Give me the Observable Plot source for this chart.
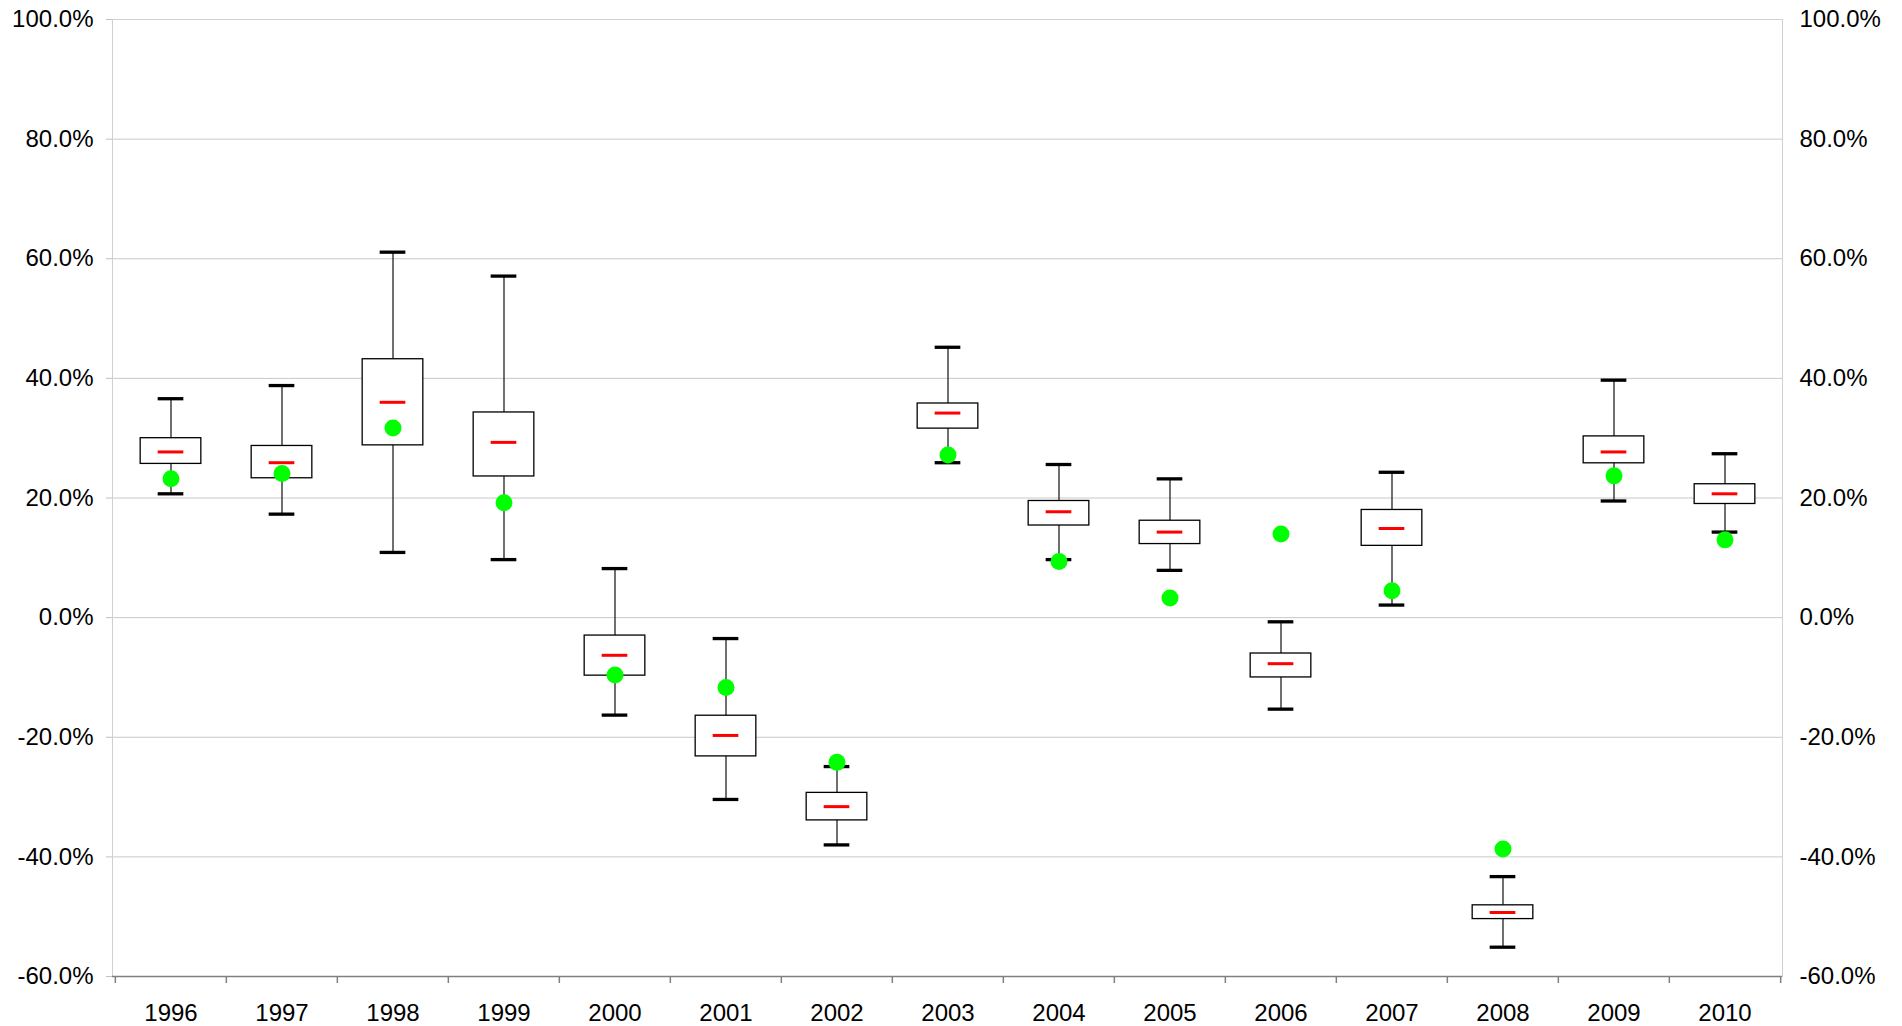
<!DOCTYPE html>
<html><head><meta charset="utf-8">
<script src="https://cdn.jsdelivr.net/npm/d3@7"></script>
<script src="https://cdn.jsdelivr.net/npm/@observablehq/plot@0.6"></script>
<style>html,body{margin:0;padding:0;background:#fff;overflow:hidden}svg{display:block}</style>
</head><body><div id="chart"></div>
<script>
// Values in percent
const years = ["1996","1997","1998","1999","2000","2001","2002","2003","2004","2005","2006","2007","2008","2009","2010"];
const whiskerHigh = [36.6, 38.8, 61.1, 57.1, 8.2, -3.5, -24.9, 45.2, 25.6, 23.2, -0.7, 24.3, -43.3, 39.7, 27.4];
const q3          = [30.0, 28.7, 43.2, 34.3, -3.0, -16.4, -29.3, 35.8, 19.5, 16.2, -6.0, 18.0, -48.1, 30.3, 22.3];
const median      = [27.7, 25.9, 36.0, 29.3, -6.3, -19.7, -31.6, 34.2, 17.7, 14.3, -7.7, 14.9, -49.3, 27.7, 20.7];
const q1          = [25.7, 23.3, 28.8, 23.6, -9.7, -23.2, -33.9, 31.6, 15.4, 12.3, -10.0, 12.0, -50.4, 25.8, 19.0];
const whiskerLow  = [20.7, 17.3, 10.9, 9.7, -16.3, -30.4, -38.0, 25.9, 9.7, 7.9, -15.3, 2.1, -55.1, 19.5, 14.3];
const marker      = [23.2, 24.1, 31.7, 19.2, -9.6, -11.7, -24.2, 27.2, 9.4, 3.3, 14.0, 4.5, -38.7, 23.7, 13.0];
const yTicks = [-60, -40, -20, 0, 20, 40, 60, 80, 100];

const rows = years.map((year, i) => ({
  year, hi: whiskerHigh[i], q3: q3[i], med: median[i], q1: q1[i], lo: whiskerLow[i], mark: marker[i]
}));

const W = 1902, H = 1026, mL = 112, mR = 120, mT = 19, mB = 50;
const bw = (W - mL - mR) / years.length;
const boxInset = (bw - 61) / 2;
const capInset = (bw - 26) / 2;
const fmt = d => d.toFixed(1) + "%";

const chart = Plot.plot({
  width: W, height: H,
  marginLeft: mL, marginRight: mR, marginTop: mT, marginBottom: mB,
  style: {fontFamily: "'Liberation Sans', Arial, sans-serif", fontSize: "24px", background: "#fff", color: "#000"},
  x: {type: "band", domain: years, padding: 0, axis: null},
  y: {domain: [-60, 100], axis: null},
  marks: [
    Plot.gridY(yTicks, {stroke: "#c8c8c8", strokeOpacity: 1}),
    Plot.frame({stroke: "#d0d0d0"}),
    Plot.ruleY([-60], {stroke: "#808080", strokeWidth: 1.5}),
    Plot.ruleX(years, {x: d => d, y1: -60, y2: -60, insetBottom: -7, dx: -bw / 2, stroke: "#808080", strokeWidth: 1.5}),
    Plot.ruleX([years[years.length - 1]], {x: d => d, y1: -60, y2: -60, insetBottom: -7, dx: bw / 2, stroke: "#808080", strokeWidth: 1.5}),
    Plot.axisY(yTicks, {anchor: "left", tickSize: 6, tickPadding: 13, stroke: "#c0c0c0", fill: "#000", tickFormat: fmt, label: null}),
    Plot.axisY(yTicks, {anchor: "right", tickSize: 0, tickPadding: 17, fill: "#000", tickFormat: fmt, label: null}),
    Plot.axisX(years, {anchor: "bottom", tickSize: 0, tickPadding: 27, fill: "#000", label: null}),
    Plot.ruleX(rows, {x: "year", y1: "lo", y2: "q1", stroke: "#222", strokeWidth: 1.3}),
    Plot.ruleX(rows, {x: "year", y1: "q3", y2: "hi", stroke: "#222", strokeWidth: 1.3}),
    Plot.barY(rows, {x: "year", y1: "q1", y2: "q3", fill: "#fff", stroke: "#000", strokeWidth: 1.3, insetLeft: boxInset, insetRight: boxInset}),
    Plot.tickY(rows, {x: "year", y: "lo", stroke: "#000", strokeWidth: 3.3, insetLeft: capInset, insetRight: capInset}),
    Plot.tickY(rows, {x: "year", y: "hi", stroke: "#000", strokeWidth: 3.3, insetLeft: capInset, insetRight: capInset}),
    Plot.tickY(rows, {x: "year", y: "med", stroke: "#ff0000", strokeWidth: 3, insetLeft: capInset, insetRight: capInset}),
    Plot.dot(rows, {x: "year", y: "mark", r: 8.5, fill: "#00ff00", stroke: null})
  ]
});
document.getElementById("chart").append(chart);
</script>
</body></html>
